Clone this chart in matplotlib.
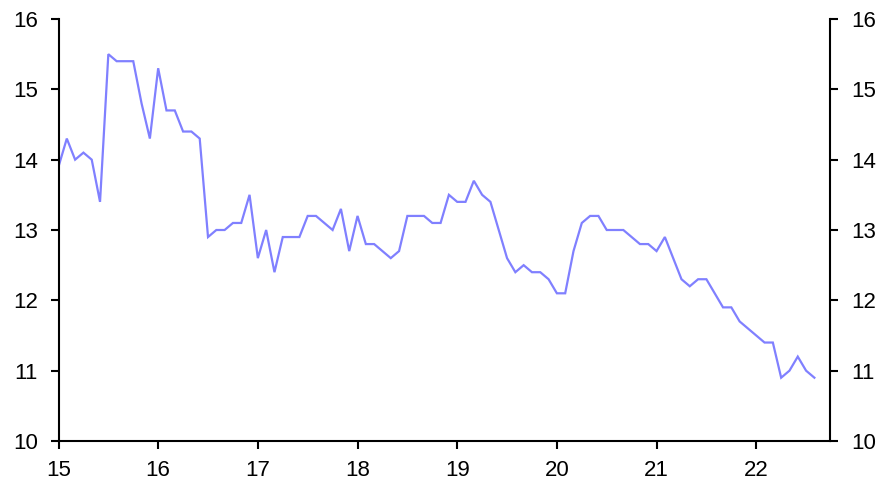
import matplotlib
matplotlib.use("Agg")
import matplotlib.pyplot as plt
import numpy as np

plt.rcParams['font.family'] = ['Liberation Sans', 'DejaVu Sans']

start_year = 15
values = [
    # 2015
    13.9, 14.3, 14.0, 14.1, 14.0, 13.4, 15.5, 15.4, 15.4, 15.4, 14.8, 14.3,
    # 2016
    15.3, 14.7, 14.7, 14.4, 14.4, 14.3, 12.9, 13.0, 13.0, 13.1, 13.1, 13.5,
    # 2017
    12.6, 13.0, 12.4, 12.9, 12.9, 12.9, 13.2, 13.2, 13.1, 13.0, 13.3, 12.7,
    # 2018
    13.2, 12.8, 12.8, 12.7, 12.6, 12.7, 13.2, 13.2, 13.2, 13.1, 13.1, 13.5,
    # 2019
    13.4, 13.4, 13.7, 13.5, 13.4, 13.0, 12.6, 12.4, 12.5, 12.4, 12.4, 12.3,
    # 2020
    12.1, 12.1, 12.7, 13.1, 13.2, 13.2, 13.0, 13.0, 13.0, 12.9, 12.8, 12.8,
    # 2021
    12.7, 12.9, 12.6, 12.3, 12.2, 12.3, 12.3, 12.1, 11.9, 11.9, 11.7, 11.6,
    # 2022
    11.5, 11.4, 11.4, 10.9, 11.0, 11.2, 11.0, 10.9,
]
x_ticks = [15, 16, 17, 18, 19, 20, 21, 22]
x_tick_labels = ["15", "16", "17", "18", "19", "20", "21", "22"]
y_ticks = [10, 11, 12, 13, 14, 15, 16]

x = start_year + np.arange(len(values)) / 12.0

fig = plt.figure(figsize=(8.85, 4.93), dpi=100)
ax = fig.add_axes([58.5 / 885, 1 - 441 / 493, (830 - 58.5) / 885, (441 - 19) / 493])

ax.plot(x, values, color="#8080ff", linewidth=1.6, solid_joinstyle="miter")

ax.set_xlim(15, 22.74)
ax.set_ylim(10, 16)
ax.set_xticks(x_ticks)
ax.set_xticklabels(x_tick_labels)
ax.set_yticks(y_ticks)

for s in ["left", "right", "bottom"]:
    ax.spines[s].set_linewidth(1.5)
    ax.spines[s].set_color("black")
ax.spines["top"].set_visible(False)

ax.yaxis.set_ticks_position("both")
ax.tick_params(axis="y", which="both", direction="out", length=6, width=1.5,
               labelsize=16, pad=9, labelright=True, right=True, left=True)
ax.tick_params(axis="x", direction="out", length=6, width=1.5, labelsize=16, pad=8)

fig.savefig("out.png", dpi=100)
